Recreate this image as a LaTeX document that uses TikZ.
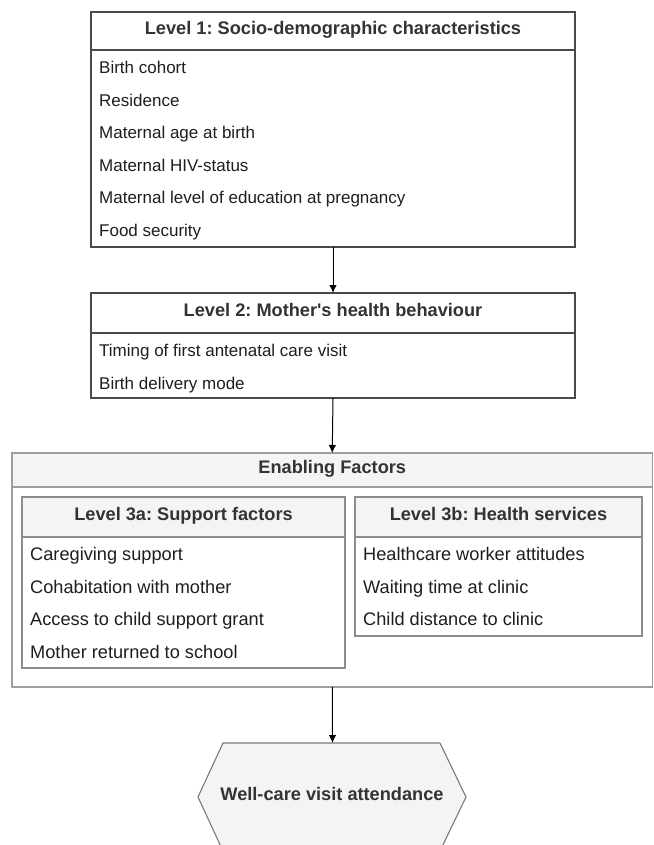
\documentclass[tikz,border=0pt]{standalone}
\usepackage{fontspec}
\setmainfont{Liberation Sans}[Ligatures=TeXOff]
\usetikzlibrary{arrows.meta}
\definecolor{hdrgray}{HTML}{F4F4F4}
\definecolor{darkline}{HTML}{4A4A4A}
\definecolor{enabline}{HTML}{9E9E9E}
\definecolor{subline}{HTML}{8C8C8C}
\definecolor{hexline}{HTML}{7A7A7A}
\definecolor{txt}{HTML}{1E1E1E}
\definecolor{hdrtxt}{HTML}{333333}
\frenchspacing
\begin{document}
\begin{tikzpicture}[x=1pt,y=-1pt,
  frame/.style={draw=darkline, line width=1.1pt, fill=white, inner sep=0pt, outer sep=0pt, anchor=north west},
  hdrbox/.style={frame, anchor=north, font=\fontsize{18.2}{20}\selectfont\bfseries, text=hdrtxt, text height=0.72em, text depth=0pt},
  enabbox/.style={frame, draw=enabline},
  enabhdr/.style={hdrbox, draw=enabline, fill=hdrgray},
  subbox/.style={frame, draw=subline},
  subhdr/.style={hdrbox, draw=subline, fill=hdrgray},
  item/.style={anchor=base west, inner sep=0pt, text=txt, font=\fontsize{17}{20}\selectfont},
  itemb/.style={item, font=\fontsize{18.2}{21}\selectfont},
  arr/.style={draw=black, line width=1pt, -{Latex[length=8pt,width=7.5pt]}},
  hexa/.style={draw=hexline, line width=1.1pt, fill=hdrgray}
]
\useasboundingbox (0,0) rectangle (653,845);
\fill[white] (0,0) rectangle (653,845);

% Level 1
\node[frame, minimum width=484pt, minimum height=235pt] (L1) at (91,12) {};
\node[hdrbox, minimum width=484pt, minimum height=38pt] (L1h) at (L1.north) {Level 1: Socio-demographic characteristics};
\node[item] (a1) at (99,74) {Birth cohort};
\node[item] (a2) at (99,106.5) {Residence};
\node[item] (a3) at (99,139) {Maternal age at birth};
\node[item] (a4) at (99,171.5) {Maternal HIV-status};
\node[item] (a5) at (99,204) {Maternal level of education at pregnancy};
\node[item] (a6) at (99,236.5) {Food security};

% Level 2
\node[frame, minimum width=484pt, minimum height=105pt] (L2) at (91,293) {};
\node[hdrbox, minimum width=484pt, minimum height=40pt] (L2h) at (L2.north) {Level 2: Mother's health behaviour};
\node[item] (b1) at (99,356) {Timing of first antenatal care visit};
\node[item] (b2) at (99,389) {Birth delivery mode};

% Enabling factors
\node[enabbox, minimum width=640.5pt, minimum height=234pt] (EF) at (12,453) {};
\node[enabhdr, minimum width=640.5pt, minimum height=34pt] (EFh) at (EF.north) {Enabling Factors};

% Level 3a
\node[subbox, minimum width=323pt, minimum height=171pt] (L3a) at (22,497) {};
\node[subhdr, minimum width=323pt, minimum height=40pt] (L3ah) at (L3a.north) {Level 3a: Support factors};
\node[itemb] (c1) at (30,560.5) {Caregiving support};
\node[itemb] (c2) at (30,593) {Cohabitation with mother};
\node[itemb] (c3) at (30,625.5) {Access to child support grant};
\node[itemb] (c4) at (30,658) {Mother returned to school};

% Level 3b
\node[subbox, minimum width=287pt, minimum height=139pt] (L3b) at (355,497) {};
\node[subhdr, minimum width=287pt, minimum height=40pt] (L3bh) at (L3b.north) {Level 3b: Health services};
\node[itemb] (d1) at (363,560.5) {Healthcare worker attitudes};
\node[itemb] (d2) at (363,593) {Waiting time at clinic};
\node[itemb] (d3) at (363,625) {Child distance to clinic};

% Outcome hexagon
\draw[hexa] (223,743) -- (440,743) -- (466,797) -- (440,851) -- (223,851) -- (198,797) -- cycle;
\coordinate (hextop) at (332.5,743);
\node[font=\fontsize{18.2}{20}\selectfont\bfseries, text=hdrtxt, text height=0.72em, text depth=0pt, inner sep=0pt] (wc) at (332,797) {Well-care visit attendance};

% Connectors
\draw[arr] (L1.south) -- (L2h.north);
\draw[arr] (L2.south) -- (EFh.north);
\draw[arr] (EF.south) -- (hextop);
\end{tikzpicture}
\end{document}
